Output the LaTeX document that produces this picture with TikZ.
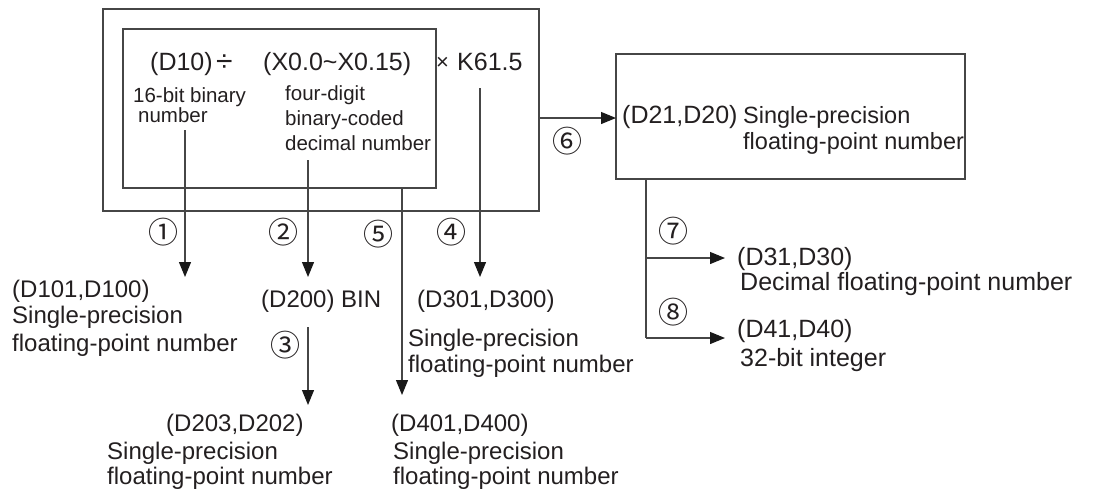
\documentclass[tikz,border=0pt]{standalone}
\usepackage{fontspec}
\setmainfont{Liberation Sans}
\newfontfamily\circfont{Noto Sans CJK SC}
\usetikzlibrary{arrows.meta}
\definecolor{linecol}{RGB}{70,70,70}
\definecolor{tipcol}{RGB}{25,25,25}
\definecolor{txtcol}{RGB}{35,31,32}
\begin{document}
\begin{tikzpicture}[x=1pt,y=-1pt,
  ln/.style={draw=linecol, line width=1.2pt},
  arr/.style={ln, -{Triangle[length=15pt,width=12pt,fill=tipcol,color=tipcol]}},
  boxst/.style={draw=linecol, line width=1.2pt, inner sep=0, minimum width=#1},
  tx/.style={anchor=base west, inner sep=0, text=txtcol},
  fmain/.style={tx, font=\fontsize{25}{28}\selectfont},
  finner/.style={tx, font=\fontsize{20.5}{24}\selectfont},
  fbot/.style={tx, font=\fontsize{24}{28}\selectfont},
  fright/.style={tx, font=\fontsize{25}{29}\selectfont},
  circ/.style={inner sep=0, text=txtcol, font=\circfont\fontsize{30}{30}\selectfont}
]
\useasboundingbox (0,0) rectangle (1097,488);

% boxes
\node[boxst=436pt, minimum height=202pt] (outer) at (321,110) {};
\node[boxst=313pt, minimum height=159pt] (inner) at (279.5,108.5) {};
\node[boxst=349pt, minimum height=125pt] (right) at (790.5,116.5) {};

% main expression
\node[fmain] (d10) at (150,70) {(D10)};
\node[tx, font=\fontsize{30}{30}\selectfont] (div) at (216,71) {÷};
\node[fmain] (xrange) at (263,70) {(X0.0\textasciitilde X0.15)};
\node[tx, font=\fontsize{22}{24}\selectfont] (times) at (436,69) {×};
\node[fmain] (k615) at (457,70) {K61.5};

% inner notes
\node[finner] (bin16a) at (133,102) {16-bit binary};
\node[finner] (bin16b) at (138,122) {number};
\node[finner] (bcda) at (285,100) {four-digit};
\node[finner] (bcdb) at (285,125) {binary-coded};
\node[finner] (bcdc) at (285,150) {decimal number};

% right box text
\node[fright] (d21) at (622,123) {(D21,D20)};
\node[tx, font=\fontsize{23.5}{28}\selectfont] (d21a) at (743,123) {Single-precision};
\node[tx, font=\fontsize{23.5}{28}\selectfont] (d21b) at (743,149) {floating-point number};

% right outputs
\node[fright] (d31) at (737,265) {(D31,D30)};
\node[fright] (d31a) at (740,290) {Decimal floating-point number};
\node[fright] (d41) at (737,337) {(D41,D40)};
\node[fright] (d41a) at (740,366) {32-bit integer};

% bottom outputs
\node[fbot] (d101) at (12,297) {(D101,D100)};
\node[fbot] (d101a) at (12,323) {Single-precision};
\node[fbot] (d101b) at (12,351) {floating-point number};
\node[fbot] (d200) at (261,307) {(D200) BIN};
\node[fbot] (d301) at (417,307) {(D301,D300)};
\node[fbot] (d301a) at (408,346) {Single-precision};
\node[fbot] (d301b) at (408,372) {floating-point number};
\node[fbot] (d203) at (166,431) {(D203,D202)};
\node[fbot] (d203a) at (107,459) {Single-precision};
\node[fbot] (d203b) at (107,484) {floating-point number};
\node[fbot] (d401) at (391,431) {(D401,D400)};
\node[fbot] (d401a) at (393,459) {Single-precision};
\node[fbot] (d401b) at (393,484) {floating-point number};

% circled step numbers
\node[circ] (c1) at (163,232) {①};
\node[circ] (c2) at (283,232) {②};
\node[circ] (c3) at (285,345) {③};
\node[circ] (c4) at (451,232) {④};
\node[circ] (c5) at (378,234) {⑤};
\node[circ] (c6) at (567,141) {⑥};
\node[circ] (c7) at (673,231) {⑦};
\node[circ] (c8) at (673,312) {⑧};

% connector end points
\coordinate (s1) at (185,130); \coordinate (e1) at (185,277);
\coordinate (s2) at (308,160); \coordinate (e2) at (308,277);
\coordinate (s3) at (308,327); \coordinate (e3) at (308,405);
\coordinate (s4) at (480,88);  \coordinate (e4) at (480,277);
\coordinate (s5) at (402,188); \coordinate (e5) at (402,395);
\coordinate (s6) at (539,118); \coordinate (e6) at (616,118);
\coordinate (s7) at (646,179); \coordinate (j7) at (646,258); \coordinate (j8) at (646,338);
\coordinate (e7) at (725,258); \coordinate (e8) at (725,338);

\draw[arr] (s1) -- (e1);
\draw[arr] (s2) -- (e2);
\draw[arr] (s3) -- (e3);
\draw[arr] (s4) -- (e4);
\draw[arr] (s5) -- (e5);
\draw[arr] (s6) -- (e6);
\draw[ln] (s7) -- (j8);
\draw[arr] (j7) -- (e7);
\draw[arr] (j8) -- (e8);
\end{tikzpicture}
\end{document}
